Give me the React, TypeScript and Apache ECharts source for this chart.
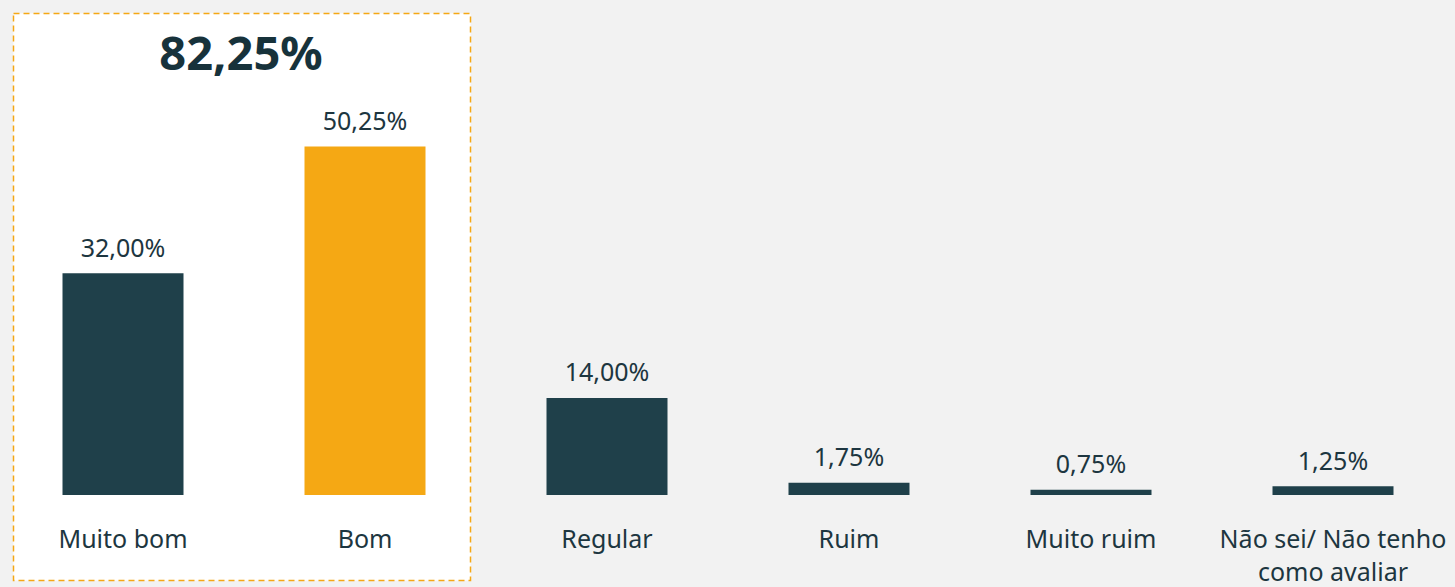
import React, { useEffect, useRef } from "react";
import * as echarts from "echarts";

const categories = ["Muito bom", "Bom", "Regular", "Ruim", "Muito ruim", "Não sei/ Não tenho\ncomo avaliar"];
const values = [32.0, 50.25, 14.0, 1.75, 0.75, 1.25];
const highlightIndex = 1;
const totalLabel = "82,25%";

const DARK = "#1f404a";
const ORANGE = "#f5a814";
const TEXT = "#1d3640";
const FONT = "'Segoe UI', 'Noto Sans', 'Open Sans', sans-serif";

const fmt = (v: number) => v.toFixed(2).replace(".", ",") + "%";

export default function App() {
  const ref = useRef<HTMLDivElement>(null);
  useEffect(() => {
    if (!ref.current) return;
    const chart = echarts.init(ref.current, undefined, { renderer: "svg" });
    chart.setOption({
      animation: false,
      backgroundColor: "#f2f2f2",
      grid: { left: 2, right: 1, top: 79, height: 423, containLabel: false },
      graphic: [
        {
          type: "rect",
          z: -10,
          shape: { x: 13.5, y: 13.5, width: 457, height: 567 },
          style: { fill: "#ffffff", stroke: ORANGE, lineWidth: 1.5, lineDash: [6, 4] },
        },
        {
          type: "text",
          z: 10,
          x: 241,
          y: 52,
          style: {
            text: totalLabel,
            fill: "#17323b",
            font: `bold 47px ${FONT}`,
            align: "center",
            verticalAlign: "middle",
          },
        },
      ],
      xAxis: {
        type: "category",
        data: categories,
        axisLine: { show: false },
        axisTick: { show: false },
        axisLabel: {
          color: TEXT,
          fontSize: 25,
          fontFamily: FONT,
          margin: 26,
          lineHeight: 33,
          interval: 0,
        },
      },
      yAxis: { type: "value", min: 0, max: 60, show: false, splitLine: { show: false } },
      series: [
        {
          type: "bar",
          barWidth: "50%",
          data: values.map((v, i) => ({
            value: v,
            itemStyle: { color: i === highlightIndex ? ORANGE : DARK },
          })),
          label: {
            show: true,
            position: "top",
            distance: 14,
            color: TEXT,
            fontSize: 25,
            fontFamily: FONT,
            formatter: (p: any) => fmt(p.value),
          },
        },
      ],
    });
    return () => chart.dispose();
  }, []);
  return (
    <div
      ref={ref}
      style={{ position: "absolute", left: 0, top: 0, width: 1455, height: 587 }}
    />
  );
}
